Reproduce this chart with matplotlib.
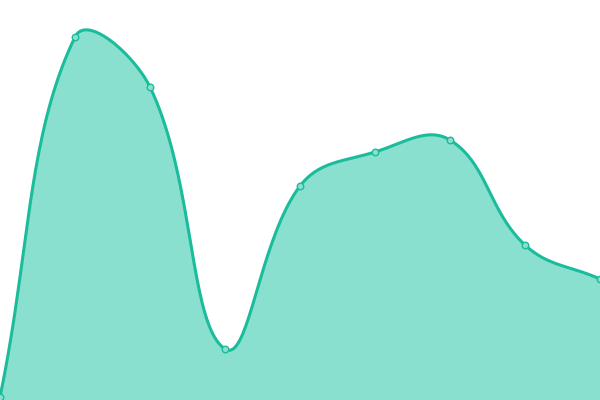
import matplotlib
matplotlib.use("Agg")
import matplotlib.pyplot as plt
import numpy as np

# Data (9 evenly spaced points)
x_vals = [0, 1, 2, 3, 4, 5, 6, 7, 8]
y_vals = [3, 363, 313, 51, 214, 248, 260, 155, 121]

line_color = "#1abc9c"
fill_color = "#8ae0cf"


def spline_path(xs, ys, tension=0.4, sx=75.0, sy=1.0, n=40):
    # smooth curve through the points (cardinal-style control points)
    px = np.asarray(xs, float) * sx
    py = np.asarray(ys, float) * sy
    k = len(px)
    cp_prev = np.zeros((k, 2))
    cp_next = np.zeros((k, 2))
    for i in range(k):
        p0 = np.array([px[max(i - 1, 0)], py[max(i - 1, 0)]])
        p1 = np.array([px[i], py[i]])
        p2 = np.array([px[min(i + 1, k - 1)], py[min(i + 1, k - 1)]])
        d01 = np.hypot(*(p1 - p0))
        d12 = np.hypot(*(p2 - p1))
        tot = d01 + d12
        s01 = d01 / tot if tot else 0
        s12 = d12 / tot if tot else 0
        cp_prev[i] = p1 - tension * s01 * (p2 - p0)
        cp_next[i] = p1 + tension * s12 * (p2 - p0)
    t = np.linspace(0, 1, n)[:, None]
    segs = []
    for i in range(k - 1):
        a = np.array([px[i], py[i]])
        b = cp_next[i]
        c = cp_prev[i + 1]
        d = np.array([px[i + 1], py[i + 1]])
        seg = ((1 - t) ** 3) * a + 3 * ((1 - t) ** 2) * t * b + 3 * (1 - t) * t ** 2 * c + t ** 3 * d
        segs.append(seg if i == 0 else seg[1:])
    pts = np.vstack(segs)
    return pts[:, 0] / sx, pts[:, 1] / sy


cx, cy = spline_path(x_vals, y_vals)

fig = plt.figure(figsize=(6, 4), dpi=100)
ax = fig.add_axes([0, 0, 1, 1])
ax.fill_between(cx, cy, 0, color=fill_color, linewidth=0)
ax.plot(cx, cy, color=line_color, linewidth=2.2, solid_capstyle="round")
ax.scatter(x_vals, y_vals, s=22, facecolor=fill_color, edgecolor=line_color,
           linewidth=1, zorder=3, clip_on=True)
ax.set_xlim(0, 8)
ax.set_ylim(0, 400)
ax.axis("off")
fig.savefig("out.png", dpi=100)
